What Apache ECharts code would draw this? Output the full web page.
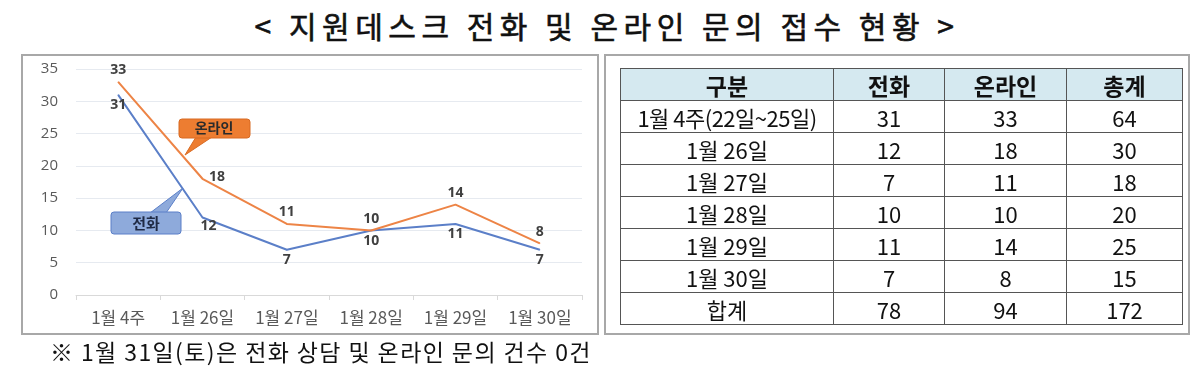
<!DOCTYPE html>
<html><head><meta charset="utf-8">
<script src="https://cdn.jsdelivr.net/npm/echarts@6/dist/echarts.min.js"></script>
<style>
html,body{margin:0;padding:0;background:#fff;width:1200px;height:366px;overflow:hidden;font-family:"Noto Sans CJK KR","Noto Sans",sans-serif;}
#title{position:absolute;left:0;top:3px;width:1214px;text-align:center;font-size:30px;font-weight:normal;letter-spacing:5.5px;color:#111;-webkit-text-stroke:0.6px #111;}
.box{position:absolute;border:2px solid #a8a8a8;box-sizing:border-box;}
#chart{position:absolute;left:0;top:0;width:1200px;height:366px;}
table{position:absolute;left:620px;top:68px;border-collapse:collapse;font-size:22px;color:#111;}
td,th{border:1px solid #555;text-align:center;padding:0;height:31px;line-height:28px;}
th{background:#d5e9f0;font-weight:bold;font-size:23px;}
#note{position:absolute;left:50px;top:334px;font-size:23px;letter-spacing:1.4px;color:#111;}
</style></head>
<body>
<div id="title">&lt; 지원데스크 전화 및 온라인 문의 접수 현황 &gt;</div>
<div class="box" style="left:21px;top:54px;width:578px;height:281px;"></div>
<div class="box" style="left:604px;top:54px;width:586px;height:281px;"></div>
<div id="chart"></div>
<table id="tbl"></table>
<div id="note">※ 1월 31일(토)은 전화 상담 및 온라인 문의 건수 0건</div>
<script>
// ---- data ----
const categories = ['1월 4주','1월 26일','1월 27일','1월 28일','1월 29일','1월 30일'];
const phone = [31,12,7,10,11,7];
const online = [33,18,11,10,14,8];
const tableHeader = ['구분','전화','온라인','총계'];
const tableRows = ['1월 4주(22일~25일)','1월 26일','1월 27일','1월 28일','1월 29일','1월 30일','합계'];
const tablePhone = [31,12,7,10,11,7,78];
const tableOnline = [33,18,11,10,14,8,94];
const tableTotal = [64,30,18,20,25,15,172];

// ---- table ----
const colW = [212,110,121,115];
const tbl = document.getElementById('tbl');
let h = '<tr>' + tableHeader.map((t,i)=>`<th style="width:${colW[i]}px">${t}</th>`).join('') + '</tr>';
tableRows.forEach((r,i)=>{
  h += `<tr><td${i===0?' style="letter-spacing:-0.5px"':''}>${r}</td><td>${tablePhone[i]}</td><td>${tableOnline[i]}</td><td>${tableTotal[i]}</td></tr>`;
});
tbl.innerHTML = h;

// ---- chart ----
const chart = echarts.init(document.getElementById('chart'));
const labelStyle = {show:true, color:'#404040', fontWeight:'bold', fontSize:14, fontFamily:'"Open Sans","Noto Sans",sans-serif'};
const onlineData = online.map((v,i)=> i===1 ? {value:v, label:{position:'right', offset:[2,-2]}} : v);
const phoneData = phone.map((v,i)=> i===1 ? {value:v, label:{offset:[6,-2]}} : v);
chart.setOption({
  animation:false,
  grid:{left:76, right:618, top:69, bottom:71},
  xAxis:{type:'category', data:categories, boundaryGap:true,
    axisLine:{lineStyle:{color:'#d9d9d9'}}, axisTick:{show:true, lineStyle:{color:'#d9d9d9'}},
    axisLabel:{color:'#595959', fontSize:17, margin:14, fontFamily:'"Noto Sans CJK KR",sans-serif'}},
  yAxis:{type:'value', min:0, max:35, interval:5,
    axisLine:{show:false}, axisTick:{show:false},
    splitLine:{lineStyle:{color:'#e6eaf0'}},
    axisLabel:{color:'#595959', fontSize:15, margin:18, fontFamily:'"Open Sans",sans-serif'}},
  series:[
    {name:'온라인', type:'line', data:onlineData, symbol:'circle', symbolSize:1, showSymbol:true,
     lineStyle:{color:'#ed8446', width:2}, itemStyle:{color:'#ed8446'},
     label:Object.assign({position:'top', distance:4}, labelStyle), z:3},
    {name:'전화', type:'line', data:phoneData, symbol:'circle', symbolSize:1, showSymbol:true,
     lineStyle:{color:'#5b7fc8', width:2}, itemStyle:{color:'#5b7fc8'},
     label:Object.assign({position:'bottom', distance:3}, labelStyle), z:2}
  ],
  graphic:[
    {type:'polygon', shape:{points:[[196,137],[185,155],[212,137]]}, style:{fill:'#ed7d31', stroke:'#d86a22', lineWidth:1}, z:10},
    {type:'rect', shape:{x:179, y:119, width:71, height:19, r:3}, style:{fill:'#ed7d31', stroke:'#d86a22', lineWidth:1}, z:10},
    {type:'polygon', shape:{points:[[150,213],[183,188],[166,213]]}, style:{fill:'#8eaadb', stroke:'#5b7fc8', lineWidth:1}, z:10},
    {type:'rect', shape:{x:111, y:212, width:70, height:22, r:3}, style:{fill:'#8eaadb', stroke:'#5b7fc8', lineWidth:1}, z:10},
    {type:'text', x:214, y:128, style:{text:'온라인', fill:'#2b2b2b', font:'bold 14px "Noto Sans CJK KR"', align:'center', verticalAlign:'middle'}, z:11},
    {type:'text', x:146, y:223, style:{text:'전화', fill:'#1f2a44', font:'bold 15px "Noto Sans CJK KR"', align:'center', verticalAlign:'middle'}, z:11}
  ]
});
</script>
</body></html>
